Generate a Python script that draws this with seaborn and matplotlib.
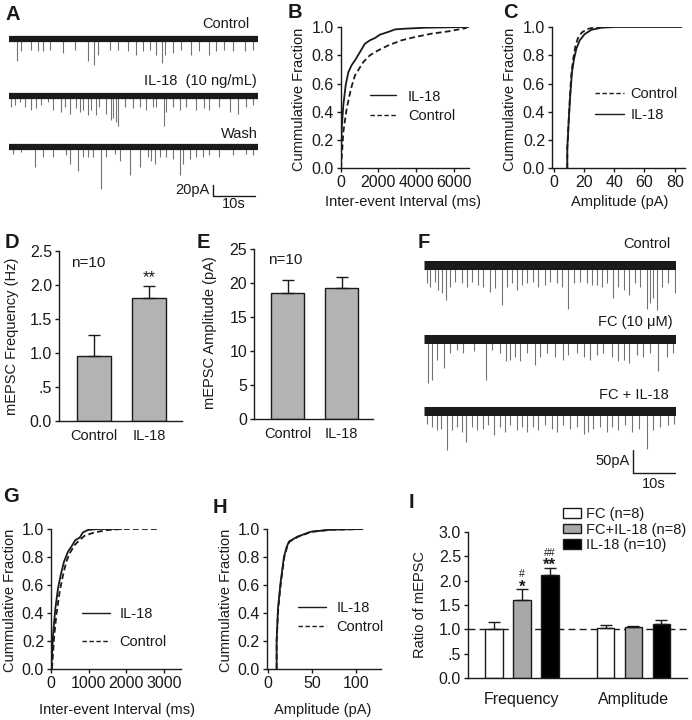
import numpy as np
import pandas as pd
import matplotlib
matplotlib.use('Agg')
import matplotlib.pyplot as plt
from matplotlib.patches import Patch
from matplotlib.lines import Line2D
from matplotlib.container import BarContainer
import seaborn as sns

W, H = 692, 720

# ---------------- data ----------------
# A: mEPSC events: time (s), amplitude (pA)
a_ctrl_t = [1.9, 3.0, 5.4, 7.0, 8.2, 9.8, 13.0, 15.8, 19.0, 20.6, 21.4, 24.3, 26.3, 28.7, 30.7,
            32.3, 33.9, 35.5, 36.9, 37.5, 39.5, 41.5, 43.9, 45.9, 48.3, 49.9, 51.7, 54.0, 56.8, 58.8]
a_ctrl_amp = [38, 21, 18, 21, 21, 18, 24, 18, 38, 44, 27, 18, 18, 21, 27,
              21, 18, 27, 41, 27, 24, 18, 27, 21, 27, 21, 18, 21, 21, 18]
a_il18_t = [0.6, 1.4, 2.6, 3.8, 5.4, 6.6, 7.8, 9.4, 10.6, 12.6, 13.4, 14.6, 16.2, 17.0, 17.8,
            19.0, 19.8, 21.0, 21.8, 23.4, 24.5, 25.1, 25.7, 26.3, 27.9, 29.9, 31.5, 33.1, 34.7,
            35.5, 37.3, 37.9, 39.5, 41.1, 42.7, 45.1, 47.1, 48.3, 50.7, 53.2, 55.2, 57.2, 58.8]
a_il18_amp = [18, 15, 10, 18, 24, 21, 15, 10, 24, 27, 18, 30, 21, 27, 24,
              32, 24, 32, 18, 30, 41, 38, 44, 51, 18, 21, 18, 24, 18,
              18, 51, 27, 18, 24, 18, 24, 21, 24, 18, 27, 30, 18, 15]
a_wash_t = [1.0, 3.0, 6.2, 8.2, 10.6, 13.8, 14.6, 16.6, 17.8, 19.0, 20.2, 22.2, 23.4, 25.5,
            26.7, 29.1, 31.5, 33.5, 34.3, 35.1, 36.3, 37.9, 39.5, 41.1, 41.9, 43.5, 45.1,
            46.7, 48.3, 50.7, 54.0, 57.2, 58.8]
a_wash_amp = [11, 9, 34, 17, 17, 14, 28, 40, 17, 17, 17, 71, 17, 11,
              23, 48, 34, 17, 23, 28, 17, 17, 20, 48, 28, 20, 17,
              17, 14, 17, 14, 11, 14]

# F: traces with fluorocitrate
f_ctrl_t = [0.6, 1.4, 2.6, 3.4, 4.2, 5.2, 6.2, 7.4, 9.0, 10.2, 11.4, 12.9, 14.1, 15.7, 16.9,
            18.5, 19.7, 20.9, 22.1, 23.3, 24.5, 26.0, 27.2, 28.8, 30.0, 31.6, 32.8, 34.4,
            35.6, 37.2, 38.7, 39.9, 41.1, 42.3, 43.5, 45.1, 46.3, 47.5, 48.7, 50.3, 51.5,
            53.0, 53.8, 54.6, 55.4, 56.6, 58.2, 59.8]
f_ctrl_amp = [40, 47, 36, 54, 61, 76, 47, 36, 40, 47, 36, 43, 47, 58, 51,
              87, 47, 40, 54, 43, 40, 36, 47, 43, 36, 40, 47, 96,
              40, 36, 40, 43, 43, 47, 40, 72, 47, 54, 65, 40, 47,
              96, 83, 72, 98, 47, 40, 61]
f_fc_t = [1.0, 1.8, 3.0, 4.8, 6.2, 7.8, 9.4, 11.8, 14.7, 16.1, 18.1, 19.5, 20.5, 21.7, 22.9,
          24.5, 26.4, 27.6, 29.2, 31.2, 33.2, 34.4, 36.4, 38.0, 39.5, 41.1, 42.7, 44.7,
          46.3, 47.5, 48.7, 50.7, 52.2, 53.8, 55.6, 57.8, 59.4]
f_fc_amp = [95, 88, 45, 63, 30, 23, 30, 27, 88, 23, 30, 48, 45, 38, 48,
            30, 56, 38, 30, 38, 45, 34, 30, 38, 45, 34, 30, 38,
            48, 45, 52, 34, 38, 30, 70, 38, 30]
f_fcil_t = [0.6, 1.8, 3.0, 4.0, 5.4, 6.6, 7.8, 9.0, 10.0, 11.4, 12.5, 14.1, 15.3, 16.7, 18.1,
            19.3, 20.5, 22.1, 23.3, 24.5, 26.0, 27.2, 28.8, 30.4, 31.6, 33.2, 34.8, 36.4,
            38.0, 39.1, 40.3, 41.9, 43.5, 44.7, 46.3, 47.9, 49.5, 51.1, 53.0, 54.6, 56.2,
            58.2, 59.6]
f_fcil_amp = [27, 35, 42, 38, 84, 42, 35, 46, 67, 35, 42, 38, 31, 53, 35,
              46, 31, 42, 35, 46, 35, 42, 31, 38, 46, 31, 38, 35,
              49, 46, 38, 35, 46, 35, 42, 31, 46, 38, 82, 42, 35,
              31, 27]

# B: cumulative inter-event interval (ms)
b_il18_x = [20, 26, 62, 150, 273, 414, 590, 767, 1031, 1295, 1559, 1824, 2088, 2529, 2881, 3410, 4467, 6758]
b_il18_y = [0, 0.1, 0.28, 0.446, 0.587, 0.68, 0.73, 0.764, 0.823, 0.882, 0.906, 0.922, 0.946, 0.965, 0.983, 0.988, 0.995, 1.0]
b_ctrl_x = [30, 150, 326, 555, 767, 1207, 1559, 2000, 2529, 3233, 3938, 4819, 5700, 6669]
b_ctrl_y = [0, 0.257, 0.422, 0.564, 0.658, 0.752, 0.80, 0.835, 0.870, 0.906, 0.929, 0.953, 0.969, 0.993]

# C: cumulative amplitude (pA)
c_il18_x = [9.0, 9.0, 9.9, 10.8, 12.1, 13.5, 15.0, 17.2, 20.5, 24.9, 31.5, 40.4, 84.5]
c_il18_y = [0, 0.137, 0.326, 0.49, 0.68, 0.775, 0.846, 0.905, 0.95, 0.98, 0.995, 1.0, 1.0]
c_ctrl_x = [9.0, 9.0, 9.9, 10.7, 11.8, 13.0, 14.3, 16.0, 18.5, 22.0, 28.0, 40.0]
c_ctrl_y = [0, 0.14, 0.33, 0.5, 0.68, 0.78, 0.86, 0.92, 0.96, 0.985, 1.0, 1.0]

# D / E: mean +- SEM
de_conds = ['Control', 'IL-18']
d_freq = [0.96, 1.815]
d_freq_sem = [0.30, 0.165]
e_amp = [18.6, 19.3]
e_amp_sem = [1.8, 1.6]

# G / H: cumulative curves with FC
g_il18_x = [9, 53, 115, 186, 257, 345, 451, 540, 646, 761, 850, 982, 1248, 1867]
g_il18_y = [0, 0.24, 0.43, 0.575, 0.67, 0.766, 0.838, 0.873, 0.92, 0.938, 0.976, 0.993, 1.0, 1.0]
g_ctrl_x = [27, 80, 142, 230, 319, 407, 496, 628, 761, 894, 1159, 1513, 1867, 2841]
g_ctrl_y = [0, 0.217, 0.384, 0.551, 0.67, 0.766, 0.826, 0.885, 0.921, 0.952, 0.976, 0.993, 1.0, 1.0]
h_il18_x = [9.5, 9.5, 11, 14, 17.8, 20.8, 23.5, 33, 48, 70.8, 105]
h_il18_y = [0, 0.2, 0.43, 0.62, 0.80, 0.87, 0.91, 0.945, 0.98, 0.995, 1.0]
h_ctrl_x = [9.5, 9.5, 11.3, 14.4, 18.2, 21.3, 24.2, 34, 49, 72, 110.6]
h_ctrl_y = [0, 0.2, 0.43, 0.62, 0.80, 0.87, 0.91, 0.945, 0.98, 0.995, 1.0]

# I: ratio of mEPSC
i_measures = ['Frequency', 'Amplitude']
i_groups = ['FC (n=8)', 'FC+IL-18 (n=8)', 'IL-18 (n=10)']
i_freq = [1.01, 1.60, 2.11]
i_freq_sem = [0.136, 0.225, 0.157]
i_amp = [1.036, 1.05, 1.11]
i_amp_sem = [0.048, 0.02, 0.075]

# ---------------- style ----------------
sns.set_theme(style='ticks')
plt.rcParams['font.family'] = ['Liberation Sans', 'DejaVu Sans']
plt.rcParams.update({
    'axes.linewidth': 1.0,
    'xtick.major.width': 1.0, 'ytick.major.width': 1.0,
    'xtick.major.size': 3, 'ytick.major.size': 3,
    'xtick.major.pad': 2, 'ytick.major.pad': 2,
    'xtick.labelsize': 11.5, 'ytick.labelsize': 11.5,
    'axes.labelsize': 10.5,
    'xtick.color': 'k', 'ytick.color': 'k', 'axes.edgecolor': 'k',
    'text.color': 'k', 'axes.labelcolor': 'k',
})

fig = plt.figure(figsize=(W / 100, H / 100), dpi=100)


def px_axes(x0, y0, x1, y1):
    return fig.add_axes([x0 / W, 1 - y1 / H, (x1 - x0) / W, (y1 - y0) / H])


DASH = (0, (3.2, 1.8))
TRACE_GRAY = '0.45'
BAR_GRAY = '#b3b3b3'


def draw_traces(ax, traces, band_lw, labels, label_x, label_y):
    for (t, amp, off) in traces:
        t = np.asarray(t)
        amp = np.asarray(amp)
        ax.vlines(t, off - amp, off, color=TRACE_GRAY, lw=0.8)
        ax.hlines(off, 0, 60, color='k', lw=band_lw)
    for lab, lx, ly in zip(labels, label_x, label_y):
        ax.text(lx, ly, lab, ha='right', va='center', fontsize=10.5)
    ax.set_xlim(0, 60)
    ax.axis('off')


def scale_bar(ax, x0, y0, dx, dy, ylab, xlab, xlab_y):
    ax.plot([x0, x0, x0 + dx], [y0 + dy, y0, y0], color='k', lw=1.0, clip_on=False)
    ax.text(x0 - 0.8, y0 + dy / 2, ylab, ha='right', va='center', fontsize=10.5)
    ax.text(x0 + dx / 2, xlab_y, xlab, ha='center', va='center', fontsize=10.5)


def cdf_panel(ax, solid, dashed, xlim, xticks, xlabel, leg_order, leg_anchor,
              handlelength, textpad, spacing, lab_x, xlab_xy):
    sns.lineplot(x=solid[0], y=solid[1], ax=ax, color='k', lw=1.3, sort=False, estimator=None)
    sns.lineplot(x=dashed[0], y=dashed[1], ax=ax, color='k', lw=1.3, sort=False,
                 estimator=None, linestyle=DASH)
    ax.set_xlim(*xlim)
    ax.set_ylim(0, 1.0)
    ax.set_xticks(xticks)
    ax.set_yticks([0, 0.2, 0.4, 0.6, 0.8, 1.0])
    ax.set_yticklabels(['0.0', '0.2', '0.4', '0.6', '0.8', '1.0'])
    ax.set_xlabel(xlabel)
    ax.set_ylabel('Cummulative Fraction')
    ax.yaxis.set_label_coords(lab_x, 0.49)
    ax.xaxis.set_label_coords(*xlab_xy)
    sns.despine(ax=ax)
    styles = {'IL-18': '-', 'Control': DASH}
    handles = [Line2D([], [], color='k', lw=1.0, linestyle=styles[k]) for k in leg_order]
    ax.legend(handles, leg_order, loc='center left', bbox_to_anchor=leg_anchor, frameon=False,
              fontsize=10.5, handlelength=handlelength, handletextpad=textpad,
              labelspacing=spacing, borderpad=0, borderaxespad=0)


def bar_list(ax):
    bars = []
    for cont in ax.containers:
        if isinstance(cont, BarContainer):
            bars += list(cont.patches)
    return bars


def add_err(ax, sems):
    for bar, sem in zip(bar_list(ax), sems):
        x = bar.get_x() + bar.get_width() / 2
        top = bar.get_height()
        ax.errorbar([x], [top], yerr=[[0], [sem]], fmt='none', ecolor='k',
                    elinewidth=1.0, capsize=4, capthick=1.0)


# ---------------- A ----------------
axA = px_axes(9, 15, 258, 210)
draw_traces(axA, [(a_ctrl_t, a_ctrl_amp, 0), (a_il18_t, a_il18_amp, -97.5),
                  (a_wash_t, a_wash_amp, -184.7)], 4.5,
            ['Control', 'IL-18  (10 ng/mL)', 'Wash'], [58, 59.8, 60], [25.6, -71.8, -162])
axA.set_ylim(-292, 41)
scale_bar(axA, 49.2, -268.5, 10, 20, '20pA', '10s', -282)

# ---------------- F ----------------
axF = px_axes(424, 235, 676, 490)
draw_traces(axF, [(f_ctrl_t, f_ctrl_amp, 0), (f_fc_t, f_fc_amp, -160.6),
                  (f_fcil_t, f_fcil_amp, -316.8)], 6.5,
            ['Control', 'FC (10 \u03bcM)', 'FC + IL-18'], [58.6, 59.3, 58.3], [45.6, -123.7, -282])
axF.set_ylim(-488, 65)
scale_bar(axF, 49.8, -451, 10, 50, '50pA', '10s', -475)

# ---------------- B, C ----------------
axB = px_axes(340.5, 27, 469, 168.3)
cdf_panel(axB, (b_il18_x, b_il18_y), (b_ctrl_x, b_ctrl_y), (0, 6800), [0, 2000, 4000, 6000],
          'Inter-event Interval (ms)', ['IL-18', 'Control'], (0.23, 0.44), 1.8, 0.8, 0.35,
          -0.27, (0.49, -0.19))
axC = px_axes(552, 27, 684.7, 168.3)
cdf_panel(axC, (c_il18_x, c_il18_y), (c_ctrl_x, c_ctrl_y), (-1.1, 86.6), [0, 20, 40, 60, 80],
          'Amplitude (pA)', ['Control', 'IL-18'], (0.324, 0.45), 2.0, 0.45, 0.5,
          -0.265, (0.51, -0.19))

# ---------------- G, H ----------------
axG = px_axes(51, 529, 181.3, 668.7)
cdf_panel(axG, (g_il18_x, g_il18_y), (g_ctrl_x, g_ctrl_y), (0, 3460), [0, 1000, 2000, 3000],
          'Inter-event Interval (ms)', ['IL-18', 'Control'], (0.238, 0.29), 1.9, 0.65, 1.0,
          -0.26, (0.505, -0.245))
axH = px_axes(266.7, 529, 380.7, 668.7)
cdf_panel(axH, (h_il18_x, h_il18_y), (h_ctrl_x, h_ctrl_y), (-1.8, 127.7), [0, 50, 100],
          'Amplitude (pA)', ['IL-18', 'Control'], (0.275, 0.366), 1.95, 0.7, 0.32,
          -0.30, (0.49, -0.245))

# ---------------- D, E ----------------
d_df = pd.DataFrame({'cond': de_conds, 'freq': d_freq})
axD = px_axes(59, 251, 182, 421)
sns.barplot(data=d_df, x='cond', y='freq', color=BAR_GRAY, width=0.61, edgecolor='k',
            linewidth=1.0, saturation=1, errorbar=None, ax=axD)
add_err(axD, d_freq_sem)
axD.set_xlim(-0.63, 1.59)
axD.set_ylim(0, 2.5)
axD.set_yticks([0, 0.5, 1.0, 1.5, 2.0, 2.5])
axD.set_yticklabels(['0.0', '.5', '1.0', '1.5', '2.0', '2.5'])
axD.tick_params(axis='x', length=0, pad=6, labelsize=10.5)
axD.set_xlabel('')
axD.set_ylabel('mEPSC Frequency (Hz)')
axD.yaxis.set_label_coords(-0.325, 0.5)
axD.text(0.236, 0.93, 'n=10', transform=axD.transAxes, ha='center', va='center', fontsize=11)
axD.text(1, d_freq[1] + d_freq_sem[1] + 0.02, '**', ha='center', va='bottom', fontsize=12)
sns.despine(ax=axD)

e_df = pd.DataFrame({'cond': de_conds, 'amp': e_amp})
axE = px_axes(254, 249, 373, 419)
sns.barplot(data=e_df, x='cond', y='amp', color=BAR_GRAY, width=0.61, edgecolor='k',
            linewidth=1.0, saturation=1, errorbar=None, ax=axE)
add_err(axE, e_amp_sem)
axE.set_xlim(-0.62, 1.58)
axE.set_ylim(0, 25)
axE.set_yticks([0, 5, 10, 15, 20, 25])
axE.tick_params(axis='x', length=0, pad=6, labelsize=10.5)
axE.set_xlabel('')
axE.set_ylabel('mEPSC Amplitude (pA)')
axE.yaxis.set_label_coords(-0.311, 0.51)
axE.text(0.265, 0.935, 'n=10', transform=axE.transAxes, ha='center', va='center', fontsize=11)
sns.despine(ax=axE)

# ---------------- I ----------------
i_df = pd.DataFrame({
    'measure': np.repeat(i_measures, len(i_groups)),
    'group': i_groups * len(i_measures),
    'ratio': i_freq + i_amp,
})
i_sem_by_group = []
for g in range(len(i_groups)):
    i_sem_by_group += [i_freq_sem[g], i_amp_sem[g]]
i_colors = ['white', '#a8a8a8', 'black']
axI = px_axes(468, 532, 687, 678)
sns.barplot(data=i_df, x='measure', y='ratio', hue='group', palette=i_colors, width=0.75,
            gap=0.37, edgecolor='k', linewidth=1.0, saturation=1, legend=False,
            errorbar=None, ax=axI)
i_bars = bar_list(axI)
add_err(axI, i_sem_by_group)
axI.axhline(1.0, color='k', lw=1.0, ls=(0, (5, 3)), zorder=0.5)
axI.set_xlim(-0.484, 1.48)
axI.set_ylim(0, 3.0)
axI.set_yticks([0, 0.5, 1.0, 1.5, 2.0, 2.5, 3.0])
axI.set_yticklabels(['0.0', '.5', '1.0', '1.5', '2.0', '2.5', '3.0'])
axI.tick_params(axis='x', length=0, pad=10)
axI.set_xlabel('')
axI.set_ylabel('Ratio of mEPSC')
axI.yaxis.set_label_coords(-0.187, 0.503)
# bars ordered by group then measure: index 2 = FC+IL-18 freq, 4 = IL-18 freq
for idx, sem, hashes, stars in [(2, i_freq_sem[1], '#', '*'), (4, i_freq_sem[2], '##', '**')]:
    bar = i_bars[idx]
    x = bar.get_x() + bar.get_width() / 2
    top = bar.get_height() + sem
    axI.text(x, top - 0.05, stars, ha='center', va='baseline', fontsize=12, fontweight='bold')
    axI.text(x, top + 0.25, hashes, ha='center', va='baseline', fontsize=7.5)
sns.despine(ax=axI)
handles = [Patch(facecolor=c, edgecolor='k', lw=1.0) for c in i_colors]
axI.legend(handles, i_groups, loc='upper left', bbox_to_anchor=(0.434, 1.17), frameon=False,
           fontsize=10.5, handlelength=1.2, handleheight=0.6, handletextpad=0.35,
           labelspacing=0.1, borderpad=0, borderaxespad=0)

# ---------------- panel letters ----------------
for letter, x, y in [('A', 5, 20), ('B', 288, 18), ('C', 503, 18), ('D', 5, 248), ('E', 197, 248),
                     ('F', 418, 248), ('G', 3, 502), ('H', 213, 513), ('I', 409, 508)]:
    fig.text(x / W, 1 - y / H, letter, fontsize=14.5, fontweight='bold', va='baseline', ha='left')

fig.savefig('out.png', dpi=100)
